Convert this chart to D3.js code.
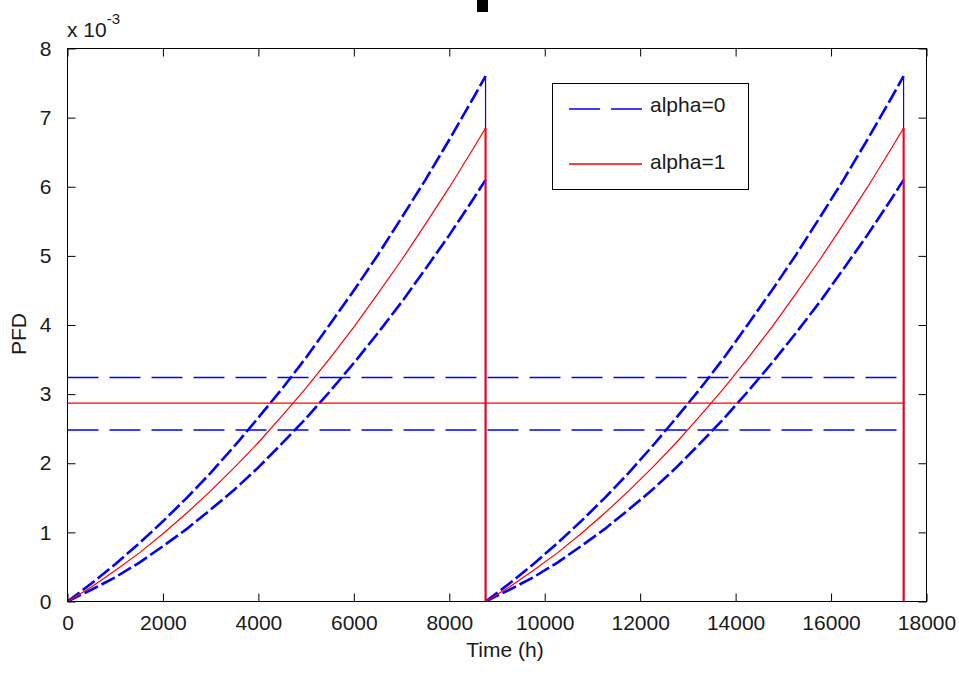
<!DOCTYPE html>
<html>
<head>
<meta charset="utf-8">
<script src="https://cdn.jsdelivr.net/npm/d3@7"></script>
<style>
  body { margin: 0; background: #fff; }
  svg { display: block; font-family: "Liberation Sans", Arial, sans-serif; }
</style>
</head>
<body>
<div id="chart"></div>
<script>
// PFD values are in units of 1e-3 (axis multiplier "x 10^-3")
var period = 8760; // one test interval, hours
var periodStarts = [0, 8760];
var cycleTime = [0, 500, 1000, 1500, 2000, 2500, 3000, 3500, 4000, 4500, 5000, 5500, 6000, 6500, 7000, 7500, 8000, 8500, 8760];
var alpha0Upper = [0, 0.26, 0.54, 0.84, 1.16, 1.50, 1.86, 2.25, 2.66, 3.08, 3.53, 4.01, 4.50, 5.01, 5.55, 6.10, 6.68, 7.28, 7.60];
var alpha0Lower = [0, 0.17, 0.35, 0.56, 0.80, 1.05, 1.33, 1.62, 1.94, 2.29, 2.65, 3.04, 3.45, 3.88, 4.33, 4.81, 5.30, 5.82, 6.10];
var alpha1 = [0, 0.21, 0.45, 0.70, 0.98, 1.28, 1.60, 1.94, 2.30, 2.69, 3.09, 3.52, 3.97, 4.45, 4.94, 5.46, 5.99, 6.55, 6.85];
var meanAlpha0 = [3.24, 2.48];
var meanAlpha1 = [2.87];
var xTicks = [0, 2000, 4000, 6000, 8000, 10000, 12000, 14000, 16000, 18000];
var yTicks = [0, 1, 2, 3, 4, 5, 6, 7, 8];
var legendLabels = ["alpha=0", "alpha=1"];

var W = 959, H = 675;
var axL = 67.5, axR = 926.5, axT = 48.5, axB = 601.5;

var svg = d3.select("#chart").append("svg").attr("width", W).attr("height", H);

var x = d3.scaleLinear().domain([0, 18000]).range([axL, axR]);
var y = d3.scaleLinear().domain([0, 8]).range([axB, axT]);

svg.append("clipPath").attr("id", "clip")
  .append("rect").attr("x", axL).attr("y", axT).attr("width", axR - axL).attr("height", axB - axT);

// one curve per test interval
function cycles(vals) {
  return periodStarts.map(function(p) {
    return cycleTime.map(function(t, i) { return [p + t, vals[i]]; });
  });
}
// the drop back to zero at the end of each interval
function drops(vals) {
  return periodStarts.map(function(p) { return [p + period, vals[vals.length - 1]]; });
}

var line = d3.line().x(function(d) { return x(d[0]); }).y(function(d) { return y(d[1]); });
var plot = svg.append("g").attr("clip-path", "url(#clip)");
var lastEnd = periodStarts[periodStarts.length - 1] + period;

// blue (alpha=0) curves
[alpha0Upper, alpha0Lower].forEach(function(vals) {
  plot.selectAll(null).data(cycles(vals)).enter().append("path")
    .attr("d", line).attr("fill", "none")
    .attr("stroke", "#0000ff").attr("stroke-width", 2.6)
    .attr("stroke-dasharray", "15,4");
  plot.selectAll(null).data(drops(vals)).enter().append("line")
    .attr("x1", function(d) { return x(d[0]); }).attr("x2", function(d) { return x(d[0]); })
    .attr("y1", function(d) { return y(d[1]); }).attr("y2", y(0))
    .attr("stroke", "#0000ff").attr("stroke-width", 1.2);
});
// mean lines alpha=0
plot.selectAll(".m0").data(meanAlpha0).enter().append("line")
  .attr("x1", x(0)).attr("x2", x(lastEnd))
  .attr("y1", function(d) { return y(d); }).attr("y2", function(d) { return y(d); })
  .attr("stroke", "#0000ff").attr("stroke-width", 1.6)
  .attr("stroke-dasharray", "31,11");

// red (alpha=1)
plot.selectAll(null).data(cycles(alpha1)).enter().append("path")
  .attr("d", line).attr("fill", "none")
  .attr("stroke", "#ff0000").attr("stroke-width", 1.2);
plot.selectAll(null).data(drops(alpha1)).enter().append("line")
  .attr("x1", function(d) { return x(d[0]); }).attr("x2", function(d) { return x(d[0]); })
  .attr("y1", function(d) { return y(d[1]); }).attr("y2", y(0))
  .attr("stroke", "#ff0000").attr("stroke-width", 2);
plot.selectAll(".m1").data(meanAlpha1).enter().append("line")
  .attr("x1", x(0)).attr("x2", x(lastEnd))
  .attr("y1", function(d) { return y(d); }).attr("y2", function(d) { return y(d); })
  .attr("stroke", "#ff0000").attr("stroke-width", 1.2);

// axes box with inward ticks on all sides
var tk = 8;
svg.append("g").attr("transform", "translate(0," + axB + ")")
  .call(d3.axisBottom(x).tickValues(xTicks).tickSizeInner(-tk).tickSizeOuter(0).tickPadding(14).tickFormat(d3.format("d")));
svg.append("g").attr("transform", "translate(0," + axT + ")")
  .call(d3.axisTop(x).tickValues(xTicks).tickSizeInner(-tk).tickSizeOuter(0).tickFormat(""));
svg.append("g").attr("transform", "translate(" + axL + ",0)")
  .call(d3.axisLeft(y).tickValues(yTicks).tickSizeInner(-tk).tickSizeOuter(0).tickPadding(16).tickFormat(d3.format("d")));
svg.append("g").attr("transform", "translate(" + axR + ",0)")
  .call(d3.axisRight(y).tickValues(yTicks).tickSizeInner(-tk).tickSizeOuter(0).tickFormat(""));

svg.selectAll(".domain").remove();
svg.selectAll(".tick line").attr("stroke", "#000");
svg.selectAll(".tick text").attr("font-size", 21).attr("fill", "#1a1a1a")
  .attr("font-family", "'Liberation Sans', Arial, sans-serif");
svg.append("rect").attr("x", axL).attr("y", axT).attr("width", axR - axL).attr("height", axB - axT)
  .attr("fill", "none").attr("stroke", "#000").attr("stroke-width", 1);

// exponent label
var ex = svg.append("text").attr("x", 67).attr("y", 37).attr("font-size", 21).attr("fill", "#1a1a1a");
ex.append("tspan").text("x 10");
ex.append("tspan").attr("dy", -13).attr("font-size", 15).text("-3");

// axis labels
svg.append("text").attr("x", (axL + axR) / 2 + 8).attr("y", 657)
  .attr("text-anchor", "middle").attr("font-size", 21).attr("fill", "#1a1a1a").text("Time (h)");
svg.append("text").attr("transform", "translate(26,334) rotate(-90)")
  .attr("text-anchor", "middle").attr("font-size", 21).attr("fill", "#1a1a1a").text("PFD");

// title placeholder glyph
svg.append("rect").attr("x", 477).attr("y", 0).attr("width", 11).attr("height", 12).attr("fill", "#000");

// legend
var lg = svg.append("g");
lg.append("rect").attr("x", 552.5).attr("y", 83.5).attr("width", 196).attr("height", 106)
  .attr("fill", "#fff").attr("stroke", "#000");
var legendStyles = [
  { color: "#0000ff", dash: "31,11", yl: 109, yt: 112 },
  { color: "#ff0000", dash: null, yl: 164, yt: 169 }
];
legendLabels.forEach(function(lab, i) {
  var s = legendStyles[i];
  lg.append("line").attr("x1", 569).attr("x2", 642).attr("y1", s.yl).attr("y2", s.yl)
    .attr("stroke", s.color).attr("stroke-width", 1.4).attr("stroke-dasharray", s.dash);
  lg.append("text").attr("x", 650).attr("y", s.yt).attr("font-size", 21).attr("fill", "#1a1a1a").text(lab);
});
</script>
</body>
</html>
